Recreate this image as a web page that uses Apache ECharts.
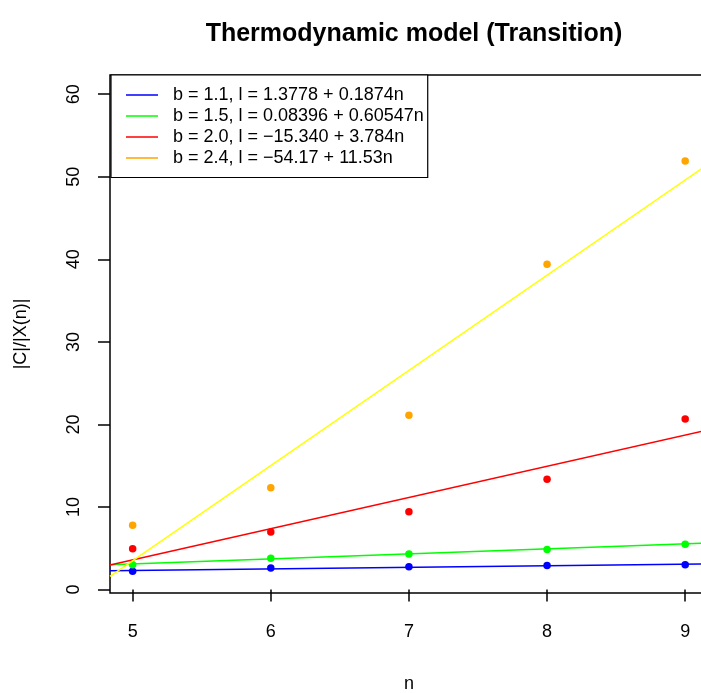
<!DOCTYPE html>
<html><head><meta charset="utf-8">
<script src="https://cdn.jsdelivr.net/npm/echarts@6/dist/echarts.min.js"></script>
<style>html,body{margin:0;padding:0;background:#fff}#c{width:701px;height:693px}</style>
</head><body><div id="c"></div>
<script>
const nValues = [5, 6, 7, 8, 9];
const pts_b11 = [2.2, 2.6, 2.75, 2.9, 3.0];
const pts_b15 = [3.0, 3.8, 4.3, 4.85, 5.5];
const pts_b20 = [4.95, 6.97, 9.43, 13.35, 20.66];
const pts_b24 = [7.78, 12.34, 21.1, 39.4, 51.9];
const fitIntercepts = [1.3778, 0.08396, -15.340, -54.17];
const fitSlopes = [0.1874, 0.60547, 3.784, 11.53];
const legendLabels = [
  'b = 1.1, l = 1.3778 + 0.1874n',
  'b = 1.5, l = 0.08396 + 0.60547n',
  'b = 2.0, l = \u221215.340 + 3.784n',
  'b = 2.4, l = \u221254.17 + 11.53n'
];
const pointColors = ['#0000FF', '#00FF00', '#FF0000', '#FFA500'];
const lineColors = ['#0000FF', '#00FF00', '#FF0000', '#FFFF00'];
const legendColors = ['#0000FF', '#00FF00', '#FF0000', '#FFA500'];
const xTicks = [5, 6, 7, 8, 9];
const yTicks = [0, 10, 20, 30, 40, 50, 60];

const X_MIN = 4.836, X_MAX = 9.165, Y_MIN = -0.42, Y_MAX = 62.33;
const FONT = 'Liberation Sans, Arial, Helvetica, sans-serif';

const pointSets = [pts_b11, pts_b15, pts_b20, pts_b24];
const series = [];
pointSets.forEach((arr, i) => {
  series.push({
    name: 'pts' + i, type: 'scatter', symbol: 'circle', symbolSize: 7.5,
    itemStyle: { color: pointColors[i], opacity: 1 }, z: 2,
    data: nValues.map((n, k) => [n, arr[k]])
  });
});
fitIntercepts.forEach((a, i) => {
  const b = fitSlopes[i];
  series.push({
    name: legendLabels[i], type: 'line', symbol: 'none', clip: true, z: 3,
    lineStyle: { color: lineColors[i], width: 1.5 },
    itemStyle: { color: lineColors[i] },
    data: [[X_MIN, a + b * X_MIN], [X_MAX, a + b * X_MAX]]
  });
});

const chart = echarts.init(document.getElementById('c'), null, { renderer: 'canvas' });
chart.setOption({
  animation: false,
  backgroundColor: '#ffffff',
  textStyle: { fontFamily: FONT },
  title: {
    text: 'Thermodynamic model (Transition)', left: 409, top: 17, textAlign: 'center',
    textStyle: { fontFamily: FONT, fontWeight: 'bold', fontSize: 25, color: '#000' }
  },
  grid: { left: 110, top: 75, width: 598, height: 518, outerBoundsMode: 'none', containLabel: false,
          show: true, borderColor: '#000', borderWidth: 1.5, backgroundColor: 'transparent' },
  xAxis: {
    type: 'value', min: X_MIN, max: X_MAX,
    name: 'n', nameLocation: 'middle', nameGap: 82,
    nameTextStyle: { fontFamily: FONT, fontSize: 18, color: '#000' },
    axisLine: { show: false },
    axisTick: { show: true, customValues: xTicks, length: 12, lineStyle: { color: '#000', width: 1.5 } },
    axisLabel: { customValues: xTicks, fontFamily: FONT, fontSize: 18, color: '#000', margin: 30 },
    splitLine: { show: false }
  },
  yAxis: {
    type: 'value', min: Y_MIN, max: Y_MAX,
    name: '|C|/|X(n)|', nameLocation: 'middle', nameGap: 80,
    nameTextStyle: { fontFamily: FONT, fontSize: 18, color: '#000' },
    axisLine: { show: false },
    axisTick: { show: true, customValues: yTicks, length: 12, lineStyle: { color: '#000', width: 1.5 } },
    axisLabel: { customValues: yTicks, rotate: 90, fontFamily: FONT, fontSize: 18, color: '#000', margin: 27 },
    splitLine: { show: false }
  },
  legend: {
    orient: 'vertical', left: 111, top: 75,
    padding: [9.5, 4, 9, 15], itemGap: 0,
    backgroundColor: '#fff', borderColor: '#000', borderWidth: 1.2,
    icon: 'rect', itemWidth: 32, itemHeight: 1.5,
    textStyle: { fontFamily: FONT, fontSize: 18, color: '#000', lineHeight: 21, padding: [0, 0, 0, 10] },
    data: legendLabels.map((t, i) => ({ name: t, itemStyle: { color: legendColors[i] } })),
    selectedMode: false
  },
  series: series
});
</script></body></html>
